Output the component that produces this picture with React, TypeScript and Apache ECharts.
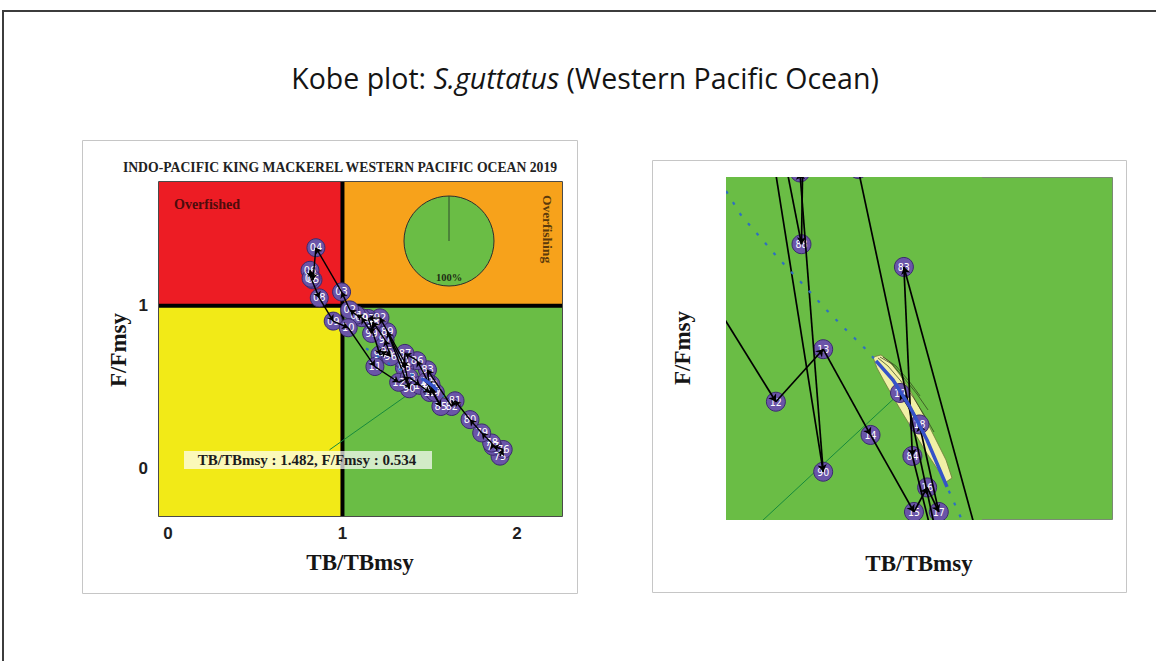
import React, { useEffect, useRef } from 'react';
import * as echarts from 'echarts';

// Stock trajectory, 1975–2019
const years = [
  1975, 1976, 1977, 1978, 1979, 1980, 1981, 1982, 1983, 1984,
  1985, 1986, 1987, 1988, 1989, 1990, 1991, 1992, 1993, 1994,
  1995, 1996, 1997, 1998, 1999, 2000, 2001, 2002, 2003, 2004,
  2005, 2006, 2007, 2008, 2009, 2010, 2011, 2012, 2013, 2014,
  2015, 2016, 2017, 2018, 2019,
];
const tbRatio = [
  1.903, 1.921, 1.862, 1.855, 1.798, 1.731, 1.645, 1.626, 1.487, 1.498,
  1.564, 1.428, 1.358, 1.355, 1.257, 1.383, 1.353, 1.215, 1.148, 1.215,
  1.253, 1.276, 1.244, 1.175, 1.167, 1.110, 1.081, 1.042, 0.995, 0.848,
  0.831, 0.814, 0.820, 0.867, 0.947, 1.033, 1.186, 1.322, 1.383, 1.444,
  1.500, 1.517, 1.532, 1.507, 1.482,
];
const fRatio = [
  0.074, 0.115, 0.135, 0.155, 0.217, 0.299, 0.415, 0.380, 0.606, 0.498,
  0.380, 0.662, 0.707, 0.619, 0.840, 0.489, 0.660, 0.926, 0.922, 0.698,
  0.718, 0.687, 0.790, 0.900, 0.830, 0.927, 0.943, 0.975, 1.086, 1.358,
  1.160, 1.219, 1.170, 1.049, 0.906, 0.865, 0.626, 0.529, 0.559, 0.510,
  0.466, 0.480, 0.466, 0.516, 0.534,
];

// Reference points and axis ranges
const refTB = 1;
const refF = 1;
const leftX = [-0.057, 2.258];
const leftY = [-0.301, 1.763];
const zoomX = [1.2577, 1.5877];
const zoomY = [0.4614, 0.6574];
const xTicks = [0, 1, 2];
const yTicks = [0, 1];

// Share of the final-year uncertainty in the green quadrant
const greenShare = [100];

// Projection curve (dashed) and its central part (bold)
const projTB = [1.135, 1.2767, 1.3247, 1.357, 1.3866, 1.4133, 1.437, 1.4511, 1.473, 1.4949, 1.5168, 1.5426, 1.5618, 1.58];
const projF = [0.738, 0.6358, 0.6112, 0.596, 0.5817, 0.5697, 0.5594, 0.5523, 0.5414, 0.526, 0.5071, 0.4803, 0.4614, 0.44];
const projBoldTB = [1.4511, 1.473, 1.4949, 1.5168, 1.5426];
const projBoldF = [0.5523, 0.5414, 0.526, 0.5071, 0.4803];

// Final-year density contour (outer ring) and inner contour lines
const contourTB = [1.4472, 1.4523, 1.4614, 1.473, 1.4859, 1.5001, 1.5155, 1.531, 1.5413, 1.549, 1.5413, 1.5271, 1.5116, 1.4962, 1.482, 1.4691, 1.4575];
const contourF = [0.5545, 0.5483, 0.5408, 0.5317, 0.522, 0.5117, 0.5003, 0.49, 0.4831, 0.4854, 0.4957, 0.5083, 0.522, 0.5345, 0.5443, 0.5517, 0.5557];
const innerContours = [
  { tb: [1.4536, 1.4665, 1.482, 1.4988, 1.5155, 1.5258], f: [0.554, 0.5494, 0.5414, 0.5317, 0.5197, 0.5117] },
  { tb: [1.4511, 1.464, 1.4794, 1.4949, 1.5091], f: [0.5523, 0.546, 0.5368, 0.5265, 0.5163] },
  { tb: [1.4562, 1.4717, 1.4872, 1.5039, 1.5181], f: [0.5545, 0.5505, 0.5425, 0.5334, 0.5243] },
  { tb: [1.4601, 1.4768, 1.4936, 1.5078], f: [0.5545, 0.5494, 0.5408, 0.5323] },
];

// Start points of the leader line towards the final year
const leaderFromLeft = [0.926, 0.113];
const leaderFromZoom = [1.2, 0.418];

const zoneColors = ['#ed1c24', '#f7a21b', '#f2ea17', '#6abd45'];
const serif = "'Liberation Serif', 'Times New Roman', serif";
const sans = "'Liberation Sans', Arial, sans-serif";
const narrow = "'Liberation Sans Narrow', 'DejaVu Sans Condensed', 'Liberation Sans', sans-serif";
const titleFont = "'Open Sans', 'Noto Sans', sans-serif";

const last = years.length - 1;
const zip = (a: number[], b: number[]) => a.map((v, i) => [v, b[i]]);

function panelSeries(cfg: {
  symbolSize: number;
  labelSize: number;
  lineWidth: number;
  arrowSize: number;
  leaderFrom: number[];
  clip: boolean;
  labelBox: number[] | null; // [xMin, xMax, yMin, yMax] outside which year labels stay hidden
}): any[] {
  const zones = [
    [leftX[0], refF, refTB, leftY[1]],
    [refTB, refF, leftX[1], leftY[1]],
    [leftX[0], leftY[0], refTB, refF],
    [refTB, leftY[0], leftX[1], refF],
  ];
  const box = cfg.labelBox;
  const points = years.map((yr, i) => {
    const inside = !box || (tbRatio[i] >= box[0] && tbRatio[i] <= box[1] && fRatio[i] >= box[2] && fRatio[i] <= box[3]);
    return { value: [tbRatio[i], fRatio[i], yr], label: { show: inside } };
  });
  const segments = years.slice(1).map((_, i) => ({
    coords: [
      [tbRatio[i], fRatio[i]],
      [tbRatio[i + 1], fRatio[i + 1]],
    ],
  }));
  const plainLine = (data: number[][], color: string, width: number, z: number, type: any = 'solid') => ({
    type: 'line',
    data,
    symbol: 'none',
    silent: true,
    clip: cfg.clip,
    z,
    lineStyle: { color, width, type },
  });
  return [
    {
      type: 'custom',
      silent: true,
      z: 1,
      clip: false,
      data: zones,
      renderItem: (params: any, api: any) => {
        const p0 = api.coord([api.value(0), api.value(3)]);
        const p1 = api.coord([api.value(2), api.value(1)]);
        return {
          type: 'rect',
          shape: { x: p0[0], y: p0[1], width: p1[0] - p0[0], height: p1[1] - p0[1] },
          style: { fill: zoneColors[params.dataIndex] },
        };
      },
    },
    plainLine([[refTB, leftY[0]], [refTB, leftY[1]]], '#000', 4, 2),
    plainLine([[leftX[0], refF], [leftX[1], refF]], '#000', 4, 2),
    plainLine([cfg.leaderFrom, [tbRatio[last], fRatio[last]]], '#178a3c', 1, 3),
    {
      type: 'custom',
      silent: true,
      z: 3,
      clip: false,
      data: [0],
      renderItem: (_p: any, api: any) => ({
        type: 'polygon',
        shape: { points: contourTB.map((v, i) => api.coord([v, contourF[i]])) },
        style: { fill: '#f1f0a6', stroke: '#6f7a3a', lineWidth: 0.8 },
      }),
    },
    ...innerContours.map((c) => plainLine(zip(c.tb, c.f), '#2d3a1a', 0.7, 3)),
    {
      type: 'scatter',
      data: points,
      z: 4,
      clip: cfg.clip,
      silent: true,
      symbol: 'circle',
      symbolSize: cfg.symbolSize,
      itemStyle: { color: '#6a55a8', borderColor: '#3b2a6e', borderWidth: 1, opacity: 1 },
      label: {
        show: true,
        position: 'inside',
        color: '#ffffff',
        fontSize: cfg.labelSize,
        fontFamily: narrow,
        formatter: (p: any) => String(p.value[2]).slice(2),
      },
    },
    {
      type: 'lines',
      coordinateSystem: 'cartesian2d',
      data: segments,
      z: 5,
      silent: true,
      clip: cfg.clip,
      symbol: ['none', 'arrow'],
      symbolSize: cfg.arrowSize,
      lineStyle: { color: '#000000', width: cfg.lineWidth, opacity: 1, curveness: 0 },
    },
    plainLine(zip(projTB, projF), '#2f6fc0', 2.2, 6, [3, 10]),
    plainLine(zip(projBoldTB, projBoldF), '#3553c8', 3.5, 6),
  ];
}

function mainOption(): any {
  const statusText = `TB/TBmsy : ${tbRatio[last].toFixed(3)}, F/Fmsy : ${fRatio[last].toFixed(3)}`;
  return {
    animation: false,
    backgroundColor: '#ffffff',
    grid: { left: 158, top: 182, width: 404, height: 335, show: false },
    xAxis: {
      type: 'value',
      min: leftX[0],
      max: leftX[1],
      splitLine: { show: false },
      axisLine: { show: false },
      axisTick: { show: true, customValues: xTicks, length: 5, lineStyle: { color: '#9a9a9a' } },
      axisLabel: { customValues: xTicks, fontFamily: sans, fontWeight: 'bold', fontSize: 17, color: '#1e1e1e', margin: 8 },
    },
    yAxis: {
      type: 'value',
      min: leftY[0],
      max: leftY[1],
      splitLine: { show: false },
      axisLine: { show: false },
      axisTick: { show: true, customValues: yTicks, length: 5, lineStyle: { color: '#9a9a9a' } },
      axisLabel: { customValues: yTicks, fontFamily: sans, fontWeight: 'bold', fontSize: 17, color: '#1e1e1e', margin: 10 },
    },
    series: [
      ...panelSeries({ symbolSize: 18, labelSize: 11, lineWidth: 1.4, arrowSize: 6, leaderFrom: leaderFromLeft, clip: true, labelBox: null }),
      {
        type: 'pie',
        center: [449, 241],
        radius: 45,
        startAngle: 90,
        silent: true,
        z: 2,
        label: { show: false },
        labelLine: { show: false },
        itemStyle: { color: '#6abd45', borderColor: '#2e2e2e', borderWidth: 1 },
        data: greenShare.map((v) => ({ value: v, name: 'green' })),
      },
    ],
    graphic: [
      // page frame
      { type: 'rect', z: 100, silent: true, shape: { x: 3, y: 11, width: 1180, height: 680 }, style: { fill: 'none', stroke: '#3c3c3c', lineWidth: 2 } },
      {
        type: 'text',
        z: 100,
        x: 585,
        y: 78,
        style: {
          text: '{n|Kobe plot: }{i|S.guttatus}{n| (Western Pacific Ocean)}',
          align: 'center',
          verticalAlign: 'middle',
          rich: {
            n: { fontFamily: titleFont, fontSize: 28.5, fill: '#141414' },
            i: { fontFamily: titleFont, fontSize: 28.5, fontStyle: 'italic', fill: '#141414' },
          },
        },
      },
      // left panel
      { type: 'rect', z: 100, silent: true, shape: { x: 82.5, y: 140.5, width: 495, height: 453 }, style: { fill: 'none', stroke: '#c6c6c6', lineWidth: 1 } },
      { type: 'text', z: 100, x: 340, y: 167, style: { text: 'INDO-PACIFIC KING MACKEREL WESTERN PACIFIC OCEAN 2019', font: `bold 13.7px ${serif}`, fill: '#222', align: 'center', verticalAlign: 'middle' } },
      { type: 'rect', z: 1, silent: true, shape: { x: 513, y: 182, width: 49, height: 121 }, style: { fill: '#f8a725' } },
      { type: 'rect', z: 100, silent: true, shape: { x: 158.5, y: 181.5, width: 404, height: 335 }, style: { fill: 'none', stroke: '#4a4a4a', lineWidth: 1 } },
      { type: 'text', z: 100, x: 174, y: 204, style: { text: 'Overfished', font: `bold 14px ${serif}`, fill: '#4d0c0c', align: 'left', verticalAlign: 'middle' } },
      { type: 'text', z: 100, x: 547, y: 229, rotation: -Math.PI / 2, style: { text: 'Overfishing', font: `bold 13.5px ${serif}`, fill: '#5b3a0b', align: 'center', verticalAlign: 'middle' } },
      { type: 'line', z: 100, silent: true, shape: { x1: 449, y1: 241, x2: 449, y2: 196 }, style: { stroke: '#2f4a2f', lineWidth: 1 } },
      { type: 'text', z: 100, x: 449, y: 277, style: { text: `${greenShare[0]}%`, font: `bold 10.5px ${serif}`, fill: '#1e2e14', align: 'center', verticalAlign: 'middle' } },
      { type: 'rect', z: 100, silent: true, shape: { x: 184, y: 451, width: 248, height: 18 }, style: { fill: 'rgba(255,255,255,0.7)' } },
      { type: 'text', z: 101, x: 307, y: 460, style: { text: statusText, font: `bold 15px ${serif}`, fill: '#1c1c1c', align: 'center', verticalAlign: 'middle' } },
      { type: 'text', z: 100, x: 360, y: 562, style: { text: 'TB/TBmsy', font: `bold 23px ${serif}`, fill: '#151515', align: 'center', verticalAlign: 'middle' } },
      { type: 'text', z: 100, x: 118, y: 350, rotation: Math.PI / 2, style: { text: 'F/Fmsy', font: `bold 23px ${serif}`, fill: '#151515', align: 'center', verticalAlign: 'middle' } },
      // right panel
      { type: 'rect', z: 100, silent: true, shape: { x: 652.5, y: 160.5, width: 474, height: 432 }, style: { fill: 'none', stroke: '#c6c6c6', lineWidth: 1 } },
      { type: 'rect', z: 1, silent: true, shape: { x: 726.5, y: 177.5, width: 386, height: 342 }, style: { fill: '#6abd45', stroke: '#7a8a74', lineWidth: 1 } },
      { type: 'rect', z: 100, silent: true, shape: { x: 726.5, y: 177.5, width: 255, height: 342 }, style: { fill: 'none', stroke: '#1f2a1a', lineWidth: 1 } },
      { type: 'text', z: 100, x: 919, y: 563, style: { text: 'TB/TBmsy', font: `bold 23px ${serif}`, fill: '#151515', align: 'center', verticalAlign: 'middle' } },
      { type: 'text', z: 100, x: 682, y: 348, rotation: Math.PI / 2, style: { text: 'F/Fmsy', font: `bold 23px ${serif}`, fill: '#151515', align: 'center', verticalAlign: 'middle' } },
    ],
  };
}

function zoomOption(): any {
  return {
    animation: false,
    backgroundColor: 'transparent',
    grid: { left: 0, right: 0, top: 0, bottom: 0, show: false },
    xAxis: { type: 'value', min: zoomX[0], max: zoomX[1], show: false },
    yAxis: { type: 'value', min: zoomY[0], max: zoomY[1], show: false },
    series: panelSeries({
      symbolSize: 19,
      labelSize: 10.5,
      lineWidth: 1.7,
      arrowSize: 7,
      leaderFrom: leaderFromZoom,
      clip: false,
      labelBox: [zoomX[0], zoomX[1], zoomY[0], zoomY[1]],
    }),
  };
}

export default function App() {
  const mainRef = useRef<HTMLDivElement>(null);
  const zoomRef = useRef<HTMLDivElement>(null);

  useEffect(() => {
    const main = echarts.init(mainRef.current as HTMLDivElement, null, { renderer: 'svg' });
    const zoom = echarts.init(zoomRef.current as HTMLDivElement, null, { renderer: 'svg' });
    main.setOption(mainOption());
    zoom.setOption(zoomOption());
    return () => {
      main.dispose();
      zoom.dispose();
    };
  }, []);

  return (
    <div style={{ position: 'absolute', left: 0, top: 0, width: 1156, height: 661, background: '#fff', overflow: 'hidden' }}>
      <div ref={mainRef} style={{ position: 'absolute', left: 0, top: 0, width: 1156, height: 661 }} />
      <div ref={zoomRef} style={{ position: 'absolute', left: 726, top: 177, width: 256, height: 343, overflow: 'hidden' }} />
    </div>
  );
}
